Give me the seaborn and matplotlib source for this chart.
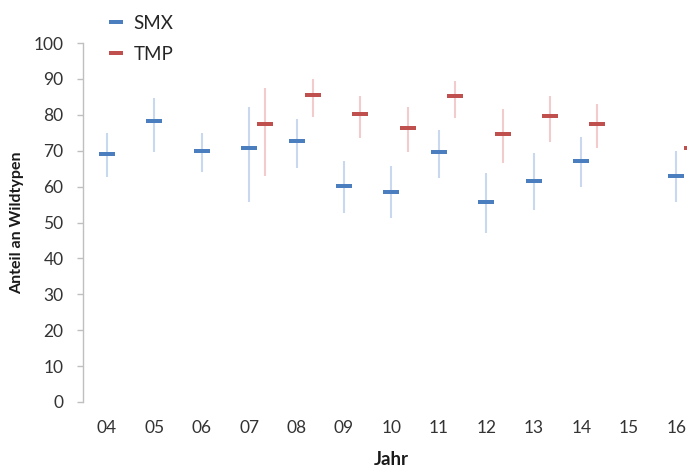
import numpy as np
import pandas as pd
import matplotlib
matplotlib.use("Agg")
import matplotlib.pyplot as plt
import seaborn as sns

# Jahre und Anteile an Wildtypen (Mittelwert mit unterer/oberer Grenze)
years = ["04", "05", "06", "07", "08", "09", "10", "11", "12", "13", "14", "15", "16"]
nan = np.nan
smx_mean = [69.1, 78.4, 70.0, 70.8, 72.8, 60.3, 58.6, 69.7, 55.6, 61.6, 67.2, nan, 63.0]
smx_low = [62.8, 69.7, 64.2, 55.8, 65.3, 52.7, 51.2, 62.3, 47.0, 53.6, 60.0, nan, 55.6]
smx_high = [74.9, 84.8, 74.8, 82.1, 78.8, 67.2, 65.7, 75.8, 63.7, 69.3, 73.7, nan, 69.9]
tmp_mean = [nan, nan, nan, 77.4, 85.5, 80.2, 76.3, 85.2, 74.7, 79.7, 77.4, nan, 70.8]
tmp_low = [nan, nan, nan, 63.0, 79.5, 73.4, 69.5, 79.0, 66.7, 72.5, 70.8, nan, nan]
tmp_high = [nan, nan, nan, 87.4, 89.9, 85.3, 82.1, 89.5, 81.5, 85.3, 83.0, nan, nan]

series = {
    "SMX": dict(mean=smx_mean, low=smx_low, high=smx_high, offset=0.0,
                color="#4a7ebf", bar="#c9d8ee"),
    "TMP": dict(mean=tmp_mean, low=tmp_low, high=tmp_high, offset=0.34,
                color="#c0504d", bar="#f2cccc"),
}

frames = []
for name, s in series.items():
    frames.append(pd.DataFrame({
        "Jahr": years,
        "pos": np.arange(len(years)) + s["offset"],
        "Serie": name,
        "Anteil": s["mean"],
        "low": s["low"],
        "high": s["high"],
    }))
df = pd.concat(frames, ignore_index=True)

sns.set_theme(style="white")
plt.rcParams["font.family"] = ["Lato", "DejaVu Sans"]

fig = plt.figure(figsize=(6.87, 4.69), dpi=100)
W, H = 687, 469
ax = fig.add_axes([83 / W, 1 - 402 / H, (700 - 83) / W, (402 - 43) / H])

# flat horizontal dash marker
dash = [(-1, -0.22), (1, -0.22), (1, 0.22), (-1, 0.22), (-1, -0.22)]

for name, s in series.items():
    d = df[df["Serie"] == name]
    ax.vlines(d["pos"], d["low"], d["high"], color=s["bar"], linewidth=1.5, zorder=1)
    sns.scatterplot(data=d, x="pos", y="Anteil", ax=ax, marker=dash, s=125,
                    color=s["color"], linewidth=0, zorder=3, label=name, legend=False)

ax.set_xlim(-0.5, len(years) - 0.5)
ax.set_ylim(0, 100)
ax.set_yticks(np.arange(0, 101, 10))
ax.set_xticks(np.arange(len(years)))
ax.set_xticklabels(years)

for side in ["top", "right", "bottom"]:
    ax.spines[side].set_visible(False)
ax.spines["left"].set_color("#bfbfbf")
ax.spines["left"].set_linewidth(1.0)

ax.tick_params(axis="y", which="major", left=True, length=4, width=1.0,
               color="#bfbfbf", pad=10, labelsize=12.5, labelcolor="#333333")
ax.tick_params(axis="x", which="major", bottom=False, length=0, pad=13,
               labelsize=12.5, labelcolor="#333333")

ax.set_xlabel("Jahr", fontsize=13.5, fontweight="bold", color="#1a1a1a", labelpad=11)
ax.set_ylabel("Anteil an Wildtypen", fontsize=11.5, fontweight="bold",
              color="#1a1a1a", labelpad=7)
ax.grid(False)

handles = [
    plt.Line2D([], [], linestyle="none", marker=dash, markersize=10,
               markerfacecolor=series[n]["color"], markeredgewidth=0)
    for n in series
]
fig.legend(handles, list(series.keys()), loc="upper left",
           bbox_to_anchor=(106.5 / W, 1 - 15 / H), frameon=False, fontsize=13.5,
           borderpad=0, borderaxespad=0, handlelength=1.05, handletextpad=0.38,
           labelspacing=0.72, labelcolor="#262626")

fig.savefig("out.png", dpi=100)
